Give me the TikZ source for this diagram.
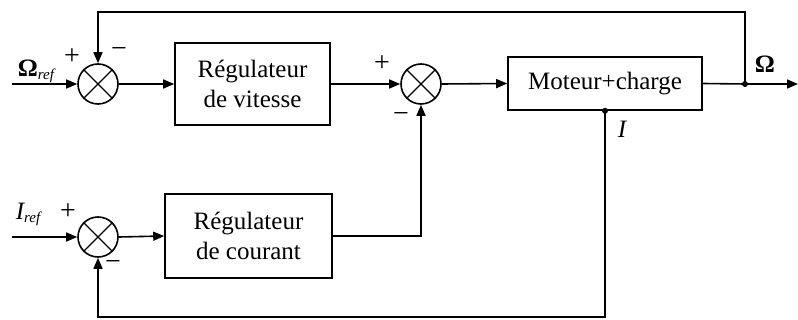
\documentclass[tikz,border=0pt]{standalone}
\usepackage{fontspec}
\setmainfont{Liberation Serif}
\usetikzlibrary{arrows.meta,calc}
\begin{document}
\begin{tikzpicture}[x=1pt,y=-1pt,
  line width=1.6pt,
  >={Triangle[length=11pt,width=9pt]},
  sumnode/.style={circle,draw,minimum size=40pt,inner sep=0pt},
  block/.style={draw,rectangle,align=center,inner sep=0pt,
    font=\fontsize{25}{30}\selectfont},
  lbl/.style={font=\fontsize{25}{30}\selectfont,inner sep=0pt},
  sgn/.style={font=\fontsize{28}{30}\selectfont,inner sep=0pt},
  dot/.style={circle,fill,minimum size=6pt,inner sep=0pt}]
\useasboundingbox (0,0) rectangle (798,320);

% summing junctions
\node[sumnode] (s1) at (98,84) {};
\node[sumnode] (s2) at (421,84) {};
\node[sumnode] (s3) at (98,237) {};
\foreach \s in {s1,s2,s3}{
  \draw[line width=1.2pt] (\s.45) -- (\s.225) (\s.135) -- (\s.315);
}

% blocks
\node[block,minimum width=155pt,minimum height=82pt] (rv) at (252.5,84) {Régulateur\\de vitesse};
\node[block,minimum width=194pt,minimum height=53pt] (mc) at (605,83.5) {Moteur+charge};
\node[block,minimum width=167pt,minimum height=84pt] (rc) at (248.5,236) {Régulateur\\de courant};

% branch points and free ends
\node[dot] (bw) at (745,84) {};
\node[dot] (bi) at (mc.south) {};
\coordinate (inw) at (12,84);
\coordinate (ini) at (12,237);
\coordinate (out) at (798,84);

% signal paths
\draw[->] (inw) -- (s1.west);
\draw[->] (s1.east) -- (rv.west);
\draw[->] (rv.east) -- (s2.west);
\draw[->] (s2.east) -- (mc.west);
\draw (mc.east) -- (bw.center);
\draw[->] (bw.center) -- (out);
\draw[->] (bw.center) |- (98,12) -- (s1.north);
\draw[->] (ini) -- (s3.west);
\draw[->] (s3.east) -- (rc.west);
\draw[->] (rc.east) -| (s2.south);
\draw[->] (bi.center) |- (98,317) -- (s3.south);

% labels
\node[lbl] at (36,71) {\textbf{Ω}\raisebox{-0.25ex}{\fontsize{15}{15}\selectfont\itshape ref}};
\node[lbl] at (28,214) {\itshape I\raisebox{-0.25ex}{\fontsize{15}{15}\selectfont ref}};
\node[lbl] at (765,64) {\textbf{Ω}};
\node[lbl] at (622,129) {\itshape I};
\node[sgn] at (72,57) {+};
\node[sgn] at (119,53) {\textminus};
\node[sgn] at (382,64) {+};
\node[sgn] at (401,118) {\textminus};
\node[sgn] at (68,212) {+};
\node[sgn] at (113,266) {\textminus};
\end{tikzpicture}
\end{document}
